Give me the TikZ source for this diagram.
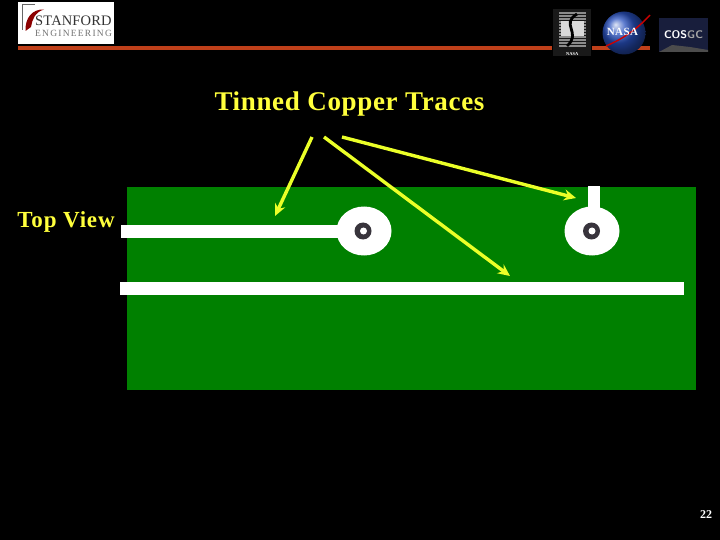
\documentclass[tikz,border=0pt]{standalone}
\usepackage{fontspec}
\setmainfont{Liberation Serif}
\usepackage{xcolor}
\usetikzlibrary{shapes,arrows,arrows.meta,positioning,calc,fit}
\definecolor{boardgreen}{RGB}{0,128,0}
\definecolor{barred}{RGB}{192,64,26}
\definecolor{ringgrey}{RGB}{56,52,60}
\definecolor{tracearrow}{RGB}{235,255,40}
\definecolor{nasablue}{RGB}{40,80,190}
\definecolor{capyellow}{RGB}{255,255,60}
\definecolor{cosgcnavy}{RGB}{24,30,60}

\begin{document}
\begin{tikzpicture}[
    x=1pt, y=-1pt,
    trace/.style={rectangle, fill=white, inner sep=0pt, outer sep=0pt},
    pad/.style={ellipse, fill=white, inner sep=0pt, outer sep=0pt, minimum width=55pt, minimum height=49pt},
    ring/.style={circle, fill=ringgrey, inner sep=0pt, minimum size=17pt},
    hole/.style={circle, fill=white, inner sep=0pt, minimum size=7pt},
    arrow/.style={-{Stealth[length=12pt,width=11pt]}, line width=3.4pt, tracearrow},
    caption/.style={text=capyellow, inner sep=0pt}
]

% Background
\fill[black] (0,0) rectangle (720,540);
\useasboundingbox (0,0) rectangle (720,540);

% Header bar
\fill[barred] (18,46) rectangle (552,50);
\fill[barred] (592,46) rectangle (650,50);

% Stanford logo
\node[trace, minimum width=96pt, minimum height=42pt, anchor=north west] (logo) at (18,2) {};
\node[anchor=north west, inner sep=0pt, text=black!80, font=\fontsize{14.5}{15}\selectfont\addfontfeature{LetterSpace=1}] (stanford) at (35,16) {STANFORD};
\node[anchor=north west, inner sep=0pt, text=black!55, font=\fontsize{9.5}{10}\selectfont\addfontfeature{LetterSpace=13}] (engineering) at (35,30) {ENGINEERING};
\draw[black!60, line width=0.8pt] (35,4) -- (22,4) -- (22,30);
\fill[red!55!black] (25.5,31) .. controls (25,18) and (32,9) .. (44,9.5) .. controls (35,12) and (32,20) .. (31,27) -- cycle;

% Seal
\node[rectangle, fill=black!90, minimum width=38pt, minimum height=47pt, inner sep=0pt, anchor=north west] (seal) at (553,9) {};
\foreach \y in {12,15,...,45} {
    \fill[black!45] (559,\y) rectangle (586,\y+2);
}
\fill[black!15] (561,21) rectangle (584,36);
\draw[black, line width=2.8pt] (577,14) .. controls (560,24) and (582,33) .. (567,46);
\node[above=1pt of seal.south, inner sep=0pt, text=white, font=\fontsize{4.5}{5}\bfseries\selectfont] (sealname) {NASA};

% NASA ball
\node[circle, shade, ball color=nasablue, minimum size=43pt, inner sep=0pt] (ball) at (624,33) {};
\draw[red!80!black, line width=1.4pt] (606,46) .. controls (625,38) and (638,28) .. (650,15);
\node[inner sep=0pt, text=white, font=\fontsize{11}{11}\bfseries\selectfont\addfontfeature{LetterSpace=4}] (nasa) at (622.5,32) {NASA};

% COSGC
\node[rectangle, fill=cosgcnavy, minimum width=49pt, minimum height=34pt, inner sep=0pt, anchor=north west] (cosgcbox) at (659,18) {};
\fill[black!70] (659,52) -- (672,45) -- (690,47) -- (708,50) -- (708,52) -- cycle;
\node[inner sep=0pt, text=white, font=\sffamily\fontsize{11}{11}\bfseries\selectfont\addfontfeature{LetterSpace=6}] (cosgc) at (683.5,35) {COS\textcolor{black!35}{GC}};

% Board
\node[rectangle, fill=boardgreen, minimum width=569pt, minimum height=203pt, inner sep=0pt, anchor=north west] (board) at (127,187) {};

% Traces
\node[trace, minimum width=220pt, minimum height=13pt, anchor=north west] (inputtrace) at (121,225) {};
\node[trace, minimum width=564pt, minimum height=13pt, anchor=north west] (longtrace) at (120,282) {};
\node[trace, minimum width=12pt, minimum height=30pt, anchor=north west] (stub) at (588,186) {};

% Pads
\node[pad] (padleft) at (364,231) {};
\node[pad] (padright) at (592,231) {};
\node[ring] (ringleft) at (363,231) {};
\node[ring] (ringright) at (591.5,231) {};
\node[hole] (holeleft) at (363.5,231) {};
\node[hole] (holeright) at (592,231) {};

% Labels
\node[caption, font=\fontsize{27}{29}\bfseries\selectfont\addfontfeature{LetterSpace=2.5}] (title) at (349.5,104.5) {Tinned Copper Traces};
\node[caption, font=\fontsize{23}{25}\bfseries\selectfont\addfontfeature{LetterSpace=3.7}] (topview) at (66,222) {Top View};
\node[text=white, font=\fontsize{12}{13}\bfseries\selectfont, inner sep=0pt] (pagenum) at (706,515) {22};

% Arrows
\coordinate (froma) at (312,137);
\coordinate (fromb) at (324,137);
\coordinate (fromc) at (342,137);
\coordinate (toa) at (275,216);
\coordinate (tob) at (510,276);
\coordinate (toc) at (576,198);
\draw[arrow] (froma) -- (toa);
\draw[arrow] (fromb) -- (tob);
\draw[arrow] (fromc) -- (toc);

\end{tikzpicture}
\end{document}
